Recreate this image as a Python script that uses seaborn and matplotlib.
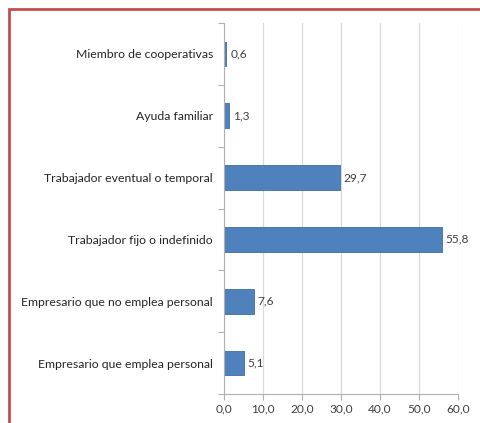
import matplotlib
matplotlib.use("Agg")
import matplotlib.pyplot as plt
import seaborn as sns
import pandas as pd
from matplotlib.patches import Rectangle
from matplotlib.ticker import FixedLocator

categories = ["Miembro de cooperativas", "Ayuda familiar", "Trabajador eventual o temporal",
              "Trabajador fijo o indefinido", "Empresario que no emplea personal",
              "Empresario que emplea personal"]
values = [0.6, 1.3, 29.7, 55.8, 7.6, 5.1]
xticks = [0, 10, 20, 30, 40, 50, 60]

sns.set_style("white")
plt.rcParams['font.family'] = ['Lato', 'DejaVu Sans']

df = pd.DataFrame({"cat": categories, "val": values})

fig = plt.figure(figsize=(4.81, 4.23), dpi=100)
ax = fig.add_axes([224/481, 29/423, (458-224)/481, (395-24)/423])

sns.barplot(data=df, x="val", y="cat", order=categories, orient="h", color="#4F81BD",
            saturation=1, width=0.4, edgecolor="#3E6DA6", linewidth=0.6, ax=ax)

ax.set_xlim(0, 60)
ax.set_ylim(len(categories) - 0.5, -0.5)
ax.set_xticks(xticks)
ax.set_xticklabels([f"{v:.1f}".replace(".", ",") for v in xticks], fontsize=8.6, color="#404040")
ax.tick_params(axis="x", length=4, width=0.8, color="#B0B0B0", direction="out", pad=3, bottom=True)
ax.tick_params(axis="y", which="major", length=0, pad=8, labelsize=8.8, labelcolor="#262626")
ax.yaxis.set_minor_locator(FixedLocator([i - 0.5 for i in range(len(categories) + 1)]))
ax.tick_params(axis="y", which="minor", length=4, width=0.8, color="#B0B0B0", direction="out", left=True)
ax.set_xlabel("")
ax.set_ylabel("")
ax.grid(axis="x", color="#DADADA", linewidth=0.9)
ax.set_axisbelow(True)
for s in ["top", "right"]:
    ax.spines[s].set_visible(False)
for s in ["left", "bottom"]:
    ax.spines[s].set_color("#B0B0B0")
    ax.spines[s].set_linewidth(0.8)

for i, v in enumerate(values):
    ax.text(v + 1.0, i, f"{v:.1f}".replace(".", ","), va="center", ha="left", fontsize=8.6, color="#404040")

fig.patches.append(Rectangle((8.5/481, -0.1), 1.2, (1 - 9.5/423) + 0.1, transform=fig.transFigure,
                             fill=False, edgecolor="#C0504D", linewidth=2, figure=fig))

fig.savefig("out.png", dpi=100)
